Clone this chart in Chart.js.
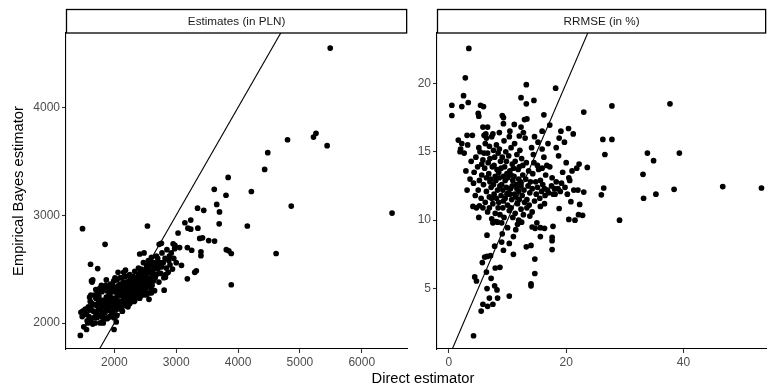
<!DOCTYPE html>
<html>
<head>
<meta charset="utf-8">
<script src="https://cdn.jsdelivr.net/npm/chart.js@4.4.1/dist/chart.umd.min.js"></script>
<style>
  body { margin: 0; background: #fff; width: 769px; height: 387px; overflow: hidden; position: relative;
         font-family: "Liberation Sans", Arial, sans-serif; }
  canvas { position: absolute; top: 0; }
  #c1 { left: 0; }
  #c2 { left: 410px; }
  #xtitle { position: absolute; left: 323px; width: 200px; top: 369px; line-height: 18px;
            text-align: center; font-size: 14.7px; color: #000; }
</style>
</head>
<body>
<canvas id="c1" width="410" height="387"></canvas>
<canvas id="c2" width="359" height="387"></canvas>
<div id="xtitle">Direct estimator</div>
<script>
// ---- data ----
const panelTitles = ["Estimates (in PLN)", "RRMSE (in %)"];
const yTitle = "Empirical Bayes estimator";

const estTicksX = [2000, 3000, 4000, 5000, 6000];
const estTicksY = [2000, 3000, 4000];
const rrmseTicksX = [0, 20, 40];
const rrmseTicksY = [5, 10, 15, 20];

// [direct, empirical bayes]
const estPoints = [
  [5490,4550],[5260,3760],[5220,3725],[5440,3645],[4800,3700],[4480,3580],[4430,3425],[3840,3350],
  [3615,3240],[3805,3185],[4215,3220],[6490,3020],[4860,3085],[4150,2900],[4615,2645],[3890,2355],
  [3700,3030],[3655,3100],[3695,2920],[3345,3065],[3445,3045],[3620,2760],[3525,2765],[3810,2680],
  [3850,2670],[3890,2645],[3140,2930],[3235,2955],[3190,2880],[3235,2870],[3350,2880],[3380,2785],
  [3425,2790],[3030,2835],[3400,2660],[3400,2625],[3325,2485],[3300,2470],[3180,2410],[3250,2675],
  [3180,2700],[3055,2700],[2950,2735],[2975,2690],[3085,2535],[2535,2900],[1485,2875],[1850,2730],
  [1615,2545],[1730,2505],[1450,1885],[1505,1965],[1550,1940],[1995,1940],[2480,2650],[2410,2640],
  [2725,2730],[2760,2740],[2825,2425],[2805,2305],
  [1460,2100],[1490,2110],[1520,2095],[1550,2080],[1580,2150],[1600,2120],[1610,2200],[1600,2240],
  [1630,2390],[1650,2400],[1640,2380],[1620,2260],[1640,2180],[1660,2110],[1670,2050],[1690,2000],
  [1700,2090],[1720,2160],[1700,2230],[1730,2280],[1750,2250],[1760,2190],[1780,2120],[1790,2060],
  [1800,2010],[1820,2000],[1840,2040],[1850,2100],[1830,2170],[1810,2210],[1800,2290],[1820,2330],
  [1860,2350],[1880,2300],[1870,2240],[1900,2180],[1910,2120],[1920,2060],[1950,2100],[1960,2150],
  [1940,2210],[1930,2270],[1950,2310],[1970,2350],[1990,2390],[2000,2290],[2010,2230],[2030,2180],
  [2020,2120],[2050,2160],[2060,2250],[2080,2300],[2070,2350],[2040,2400],[2060,2470],[2090,2420],
  [2100,2200],[2110,2260],[2120,2150],[2130,2330],[2150,2280],[2160,2230],[2150,2380],[2170,2430],
  [2180,2490],[2190,2340],[2200,2270],[2210,2200],[2220,2150],[2230,2310],[2240,2390],[2250,2450],
  [2260,2250],[2270,2340],[2280,2290],[2290,2210],[2300,2400],[2310,2350],[2320,2270],[2330,2480],
  [2340,2420],[2350,2310],[2360,2240],[2370,2380],[2380,2330],[2390,2450],[2400,2280],[2410,2230],
  [2420,2370],[2430,2500],[2440,2410],[2450,2330],[2460,2260],[2470,2560],[2480,2470],[2490,2380],
  [2500,2310],[2510,2440],[2520,2520],[2540,2360],[2550,2580],[2560,2470],[2570,2280],[2580,2410],
  [2590,2530],[2600,2610],[2610,2350],[2620,2480],[2640,2560],[2650,2300],[2660,2420],[2680,2620],
  [2700,2500],[2720,2380],[2740,2560],[2750,2460],[2770,2650],[2790,2560],[2800,2420],[2820,2600],
  [2840,2510],[2850,2680],[2870,2470],[2880,2580],[2900,2540],[2920,2650],[2940,2500],[2960,2600],
  [2980,2720],[3000,2560],
  [1780,2210],[1800,2150],[1830,2090],[1860,2140],[1890,2200],[1910,2260],[1930,2160],[1960,2230],
  [1980,2190],[2000,2140],[2020,2330],[2040,2280],[2070,2200],[2090,2130],[2100,2360],[2120,2290],
  [2140,2190],[2170,2300],[2190,2250],[2200,2380],[2230,2230],[2250,2180],[2270,2420],[2290,2320],
  [2300,2250],[2330,2210],[2350,2400],[2370,2280],[2390,2350],[2410,2300],[2430,2260],[2450,2430],
  [2470,2340],[2490,2270],[2510,2360],[2530,2420],[2550,2490],[2570,2380],[2590,2320],[2610,2440],
  [2630,2390],[2650,2510],[2680,2450],[2710,2560],[1560,2020],[1620,2140],[1680,2170],[1720,2050],
  [1740,2120],[1760,2320],[1870,2400],[1900,2050],[1990,2050],[2040,2070],[2110,2420],[2130,2250],
  [2180,2160],[2210,2350],[2240,2280],[2280,2380],[2320,2330],[2360,2340],[2400,2420],[2440,2360],
  [2480,2300],[2520,2260],[2560,2220],[2600,2280],[2640,2450],[1570,2000],[1650,1990],[1700,2310],
  [1760,2070],[1850,2190],[1940,2360],[2010,2420],[2060,2330],[2150,2470],[2230,2440],[2310,2430],
  [2390,2510],[2460,2490],[2540,2540],[2600,2560],[2700,2600],[2760,2520],[2830,2450],[2890,2620],
  [1480,2060],[1530,2130],[1590,2060],[1620,2030],[1680,2260],[1740,2190],[1770,2000],[1790,2350],
  [1810,2080],[1880,2040],[1890,2120],[1920,2320],[1970,2080],[2030,2010],[2080,2170],[2130,2110],
  [2160,2350],[2220,2330],[2260,2390],[2320,2200],[2380,2260],[2420,2480],[2500,2400],[2560,2340],
  [2620,2530],[2690,2540]
];

const rrmsePoints = [
  [3.4,22.55],[2.8,20.4],[2.5,19.1],[2.2,18.3],[3.3,18.6],[0.5,18.4],[0.5,17.65],[13.2,19.9],
  [18.2,19.65],[12.3,18.95],[14.5,18.75],[13.2,18.5],[23.0,17.9],[27.8,18.35],[37.7,18.5],[16.2,17.7],
  [5.4,18.4],[5.9,18.3],[5.0,17.8],[5.1,17.6],[9.1,17.65],[9.3,17.5],[12.9,17.35],[13.3,17.4],
  [9.3,17.05],[11.15,17.0],[12.3,16.8],[17.2,16.95],[5.8,16.8],[6.6,16.8],[20.4,16.7],[19.1,16.5],
  [21.2,16.3],[15.9,16.5],[10.4,16.5],[8.6,16.4],[6.0,16.2],[6.4,16.0],[3.1,16.2],[4.0,16.2],
  [12.0,16.15],[7.5,16.3],[1.6,15.85],[2.2,15.6],[1.9,15.0],[18.8,16.0],[19.7,15.7],[15.2,15.7],
  [18.3,15.3],[26.25,15.9],[27.8,15.9],[26.6,14.8],[33.85,14.9],[34.9,14.35],[39.3,14.9],[33.1,13.35],
  [22.2,14.1],[23.6,13.85],[21.8,13.8],[26.4,12.35],[26.0,11.85],[35.3,11.9],[33.2,11.6],[38.4,12.25],
  [46.7,12.45],[53.3,12.35],[23.0,12.05],[22.0,12.2],[20.45,13.1],[19.2,12.7],[29.1,10.0],
  [4.2,1.55],[10.3,4.45],[5.5,3.35],[6.6,3.7],[7.5,3.85],[5.8,3.85],[6.9,4.3],[8.3,4.3],
  [6.5,5.0],[7.8,5.2],[8.2,4.9],[4.4,5.85],[4.7,5.55],[7.2,5.75],[6.4,6.2],[7.9,6.5],
  [8.7,6.55],[5.7,6.9],[6.5,7.35],[6.1,7.3],[7.1,7.4],[7.8,8.1],[6.5,8.9],[9.3,7.8],
  [11.0,7.5],[9.0,8.4],[10.3,8.3],[9.1,9.0],[10.0,9.45],[11.0,8.8],[11.4,9.3],[14.65,7.15],
  [14.65,6.1],[14.0,5.35],[14.0,5.2],[13.2,8.05],[14.0,8.15],[15.6,8.8],[17.6,8.75],[17.6,8.5],
  [17.6,7.85],[14.2,9.5],[14.7,9.4],[15.6,9.45],[15.0,9.8],[16.3,9.4],[17.75,9.55],[18.8,10.85],
  [20.45,10.05],[21.5,10.0],[22.1,10.4],[22.8,10.35],[20.8,11.35],[22.3,11.15],[11.9,10.0],[11.7,9.7],
  [12.4,9.85],[13.3,10.9],[14.2,10.6],[13.8,10.3],[15.6,11.0],[16.3,11.2],[4.1,11.0],[4.7,10.9],
  [5.2,11.05],[5.1,10.2],[6.9,10.9],[7.5,9.8],[8.3,9.85],
  [2.0,15.2],[2.6,14.9],[3.2,15.5],[3.8,14.3],[2.9,13.6],[3.6,13.0],[4.2,12.7],[3.1,12.2],
  [4.5,11.8],[5.1,15.3],[4.6,14.6],[4.9,13.9],[5.3,15.0],[5.8,14.4],[6.2,15.6],[6.6,14.9],
  [5.6,13.3],[6.1,13.8],[6.8,13.4],[5.9,12.6],[6.4,12.1],[7.0,12.8],[5.5,11.6],[6.2,11.3],
  [6.9,11.7],[6.6,10.6],[5.8,10.9],[6.3,16.3],[6.9,15.4],[7.3,16.1],[7.6,15.1],[7.8,14.6],
  [7.4,13.9],[7.9,13.2],[7.2,12.4],[7.7,11.9],[7.5,11.2],[7.9,10.5],[7.3,10.1],[8.1,15.5],
  [8.4,14.9],[8.8,14.3],[8.2,13.7],[8.6,13.1],[9.0,12.6],[8.3,12.2],[8.9,11.8],[8.5,11.3],
  [9.2,10.9],[8.7,10.4],[9.4,15.8],[9.7,15.0],[9.1,14.6],[9.5,13.9],[9.9,13.4],[9.3,13.2],
  [9.8,12.4],[9.6,11.6],[10.0,11.1],[9.4,10.2],[10.3,16.1],[10.6,15.3],[10.2,14.7],[10.8,14.1],
  [10.4,13.6],[10.9,12.9],[10.5,12.3],[10.1,12.0],[10.7,11.5],[10.3,10.7],[10.9,10.2],[9.0,9.8],
  [8.0,9.9],[11.2,15.6],[11.6,14.8],[11.3,14.3],[11.8,13.7],[11.1,13.2],[11.5,12.6],[11.9,12.1],
  [11.4,11.7],[11.7,11.2],[12.1,15.1],[12.4,14.5],[12.0,13.9],[12.6,13.3],[12.2,12.8],[12.8,12.2],
  [12.5,11.8],[12.9,11.3],[12.3,10.8],[13.2,14.2],[13.6,13.6],[13.1,13.0],[13.5,12.5],[13.8,12.0],
  [13.3,11.5],[13.0,16.0],[12.7,16.4],[14.1,15.3],[14.5,14.2],[14.3,13.4],[14.8,12.8],[14.2,12.3],
  [14.9,11.9],[15.3,13.7],[15.6,12.9],[15.1,12.4],[15.8,12.1],[15.5,11.6],[16.2,14.6],[16.5,13.3],
  [16.0,12.6],[16.8,12.2],[16.4,11.8],[17.2,13.9],[17.5,12.5],[17.0,12.0],[17.8,11.9],[16.9,15.6],
  [15.9,15.2],[14.6,16.1],[18.3,12.8],[18.6,12.3],[18.1,11.9],[19.0,12.1],[19.4,13.5],[19.8,12.4],
  [20.2,11.9],[20.6,12.9],[21.0,13.6],[21.3,12.2],[20.0,14.2],[18.7,14.7],
  [6.0,14.9],[6.7,14.2],[7.1,13.0],[7.6,12.6],[8.0,12.9],[8.5,13.5],[8.9,13.8],[9.2,12.2],
  [9.6,12.9],[10.0,13.1],[10.4,11.9],[10.8,12.5],[11.2,11.9],[11.6,12.3],[12.0,11.5],[12.3,12.5],
  [8.1,11.6],[8.7,12.5],[9.3,11.4],[9.9,11.9],[7.0,14.5],[7.7,14.0],[8.6,15.2],[9.8,14.3],
  [10.6,13.3],[11.0,13.8],[11.9,13.0],[12.6,14.0],[6.4,13.1],[5.2,12.9],[5.0,12.2],[4.3,13.5],
  [5.6,14.1],[7.3,11.6],[8.4,10.9],[10.6,10.9],[11.3,10.5],[12.7,10.4],[13.7,11.1],[14.6,11.4],
  [13.9,12.8],[14.4,14.8],[15.1,14.0],[15.9,13.8],[16.7,14.0],[17.6,13.1],[18.0,12.3],[16.3,12.3]
];

// ---- drawing ----
const FONT = '"Liberation Sans", Arial, sans-serif';

const stripPlugin = {
  id: "strip",
  afterDraw(chart, args, opts) {
    const { ctx, chartArea: a } = chart;
    ctx.save();
    ctx.strokeStyle = "#000";
    ctx.lineWidth = 1.3;
    ctx.strokeRect(a.left + 0.5, 9.5, a.right - a.left - 1, 23.5);
    ctx.fillStyle = "#1a1a1a";
    ctx.font = "11.7px " + FONT;
    ctx.textAlign = "center";
    ctx.textBaseline = "middle";
    ctx.fillText(opts.text, (a.left + a.right) / 2, 21.5);
    ctx.restore();
  }
};

function axis(min, max, ticks, fitFn) {
  return {
    type: "linear",
    min: min,
    max: max,
    afterFit: fitFn,
    afterBuildTicks: s => { s.ticks = ticks.map(v => ({ value: v })); },
    grid: { display: true, drawOnChartArea: false, drawTicks: true, tickLength: 4,
            tickColor: "#333333", tickWidth: 1.1 },
    border: { display: true, color: "#000", width: 1.1 },
    ticks: { color: "#4d4d4d", font: { size: 12, family: FONT }, padding: 2,
             maxRotation: 0, autoSkip: false, callback: v => String(v) }
  };
}

function panel(id, points, xr, yr, tx, ty, title, yWidth, padRight, showYTitle) {
  const lo = Math.min(xr[0], yr[0]), hi = Math.max(xr[1], yr[1]);
  const yAxis = axis(yr[0], yr[1], ty, s => { s.width = yWidth; });
  yAxis.title = { display: showYTitle, text: yTitle, color: "#000",
                  font: { size: 14.7, family: FONT }, padding: { top: 10, bottom: 0 } };
  new Chart(document.getElementById(id), {
    type: "scatter",
    data: {
      datasets: [
        { data: points.map(p => ({ x: p[0], y: p[1] })), backgroundColor: "#000",
          borderWidth: 0, pointRadius: 2.85, pointHoverRadius: 2.85, clip: 0 },
        { type: "line", data: [{ x: lo, y: lo }, { x: hi, y: hi }], borderColor: "#000",
          borderWidth: 1.1, pointRadius: 0, fill: false, clip: 0 }
      ]
    },
    options: {
      responsive: false,
      animation: false,
      devicePixelRatio: 1,
      events: [],
      layout: { padding: { top: 33, right: padRight, bottom: 0, left: 0 } },
      scales: {
        x: axis(xr[0], xr[1], tx, s => { s.height = 38; }),
        y: yAxis
      },
      plugins: { legend: { display: false }, tooltip: { enabled: false }, strip: { text: title } }
    },
    plugins: [stripPlugin]
  });
}

panel("c1", estPoints, [1218, 6734], [1759, 4690], estTicksX, estTicksY, panelTitles[0], 66, 1, true);
panel("c2", rrmsePoints, [-2.03, 54.1], [0.58, 23.68], rrmseTicksX, rrmseTicksY, panelTitles[1], 27, 0, false);
</script>
</body>
</html>
